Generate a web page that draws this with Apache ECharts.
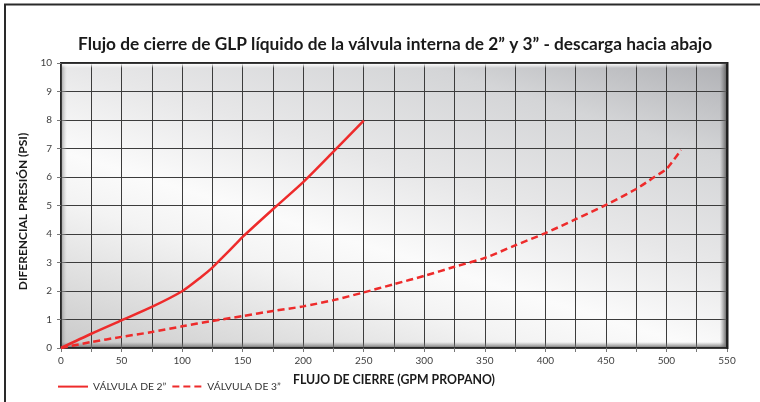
<!DOCTYPE html>
<html><head><meta charset="utf-8">
<script src="https://cdn.jsdelivr.net/npm/echarts@6/dist/echarts.min.js"></script>
<style>html,body{margin:0;padding:0;background:#fff}#c{width:760px;height:402px}</style>
</head><body><div id="c"></div>
<script>
const chartTitle = 'Flujo de cierre de GLP líquido de la válvula interna de 2” y 3” - descarga hacia abajo';
const xAxisName = 'FLUJO DE CIERRE (GPM PROPANO)';
const yAxisName = 'DIFERENCIAL PRESIÓN (PSI)';
const seriesNames = ['VÁLVULA DE 2”', 'VÁLVULA DE 3”'];
const flow2 = [0, 25, 50, 75, 100, 116, 125, 133, 145, 150, 175, 200, 225, 250];
const psi2  = [0, 0.5, 0.97, 1.44, 1.99, 2.5, 2.82, 3.16, 3.68, 3.9, 4.87, 5.82, 6.89, 7.98];
const flow3 = [0, 25, 50, 75, 100, 125, 150, 175, 200, 225, 250, 275, 300, 325, 350, 375, 400, 425, 450, 475, 490, 500, 512];
const psi3  = [0, 0.21, 0.39, 0.56, 0.76, 0.95, 1.12, 1.3, 1.46, 1.68, 1.95, 2.24, 2.53, 2.85, 3.16, 3.6, 4.03, 4.52, 5.02, 5.58, 6.0, 6.28, 6.95];
const xMin = 0, xMax = 550, xStep = 50;
const yMin = 0, yMax = 10, yStep = 1;

const FONT = 'Lato';
const G = {left: 61, top: 63, width: 666, height: 285};
const chart = echarts.init(document.getElementById('c'), null, {renderer: 'canvas'});
const pairs = (xs, ys) => xs.map((x, i) => [x, ys[i]]);
const gridLine = {show: true, lineStyle: {color: '#3c3c3c', width: 1}};

chart.setOption({
  animation: false,
  backgroundColor: '#fff',
  textStyle: {fontFamily: FONT},
  title: {
    text: chartTitle, left: 73, top: 31,
    textStyle: {fontFamily: FONT, fontWeight: 'bold', fontSize: 17.3, color: '#1a1a1a'}
  },
  legend: {
    left: 52, top: 376, itemWidth: 30, itemHeight: 14, itemGap: 5,
    itemStyle: {opacity: 0},
    textStyle: {fontFamily: FONT, fontSize: 10.3, color: '#333'},
    data: seriesNames
  },
  grid: {
    left: G.left, top: G.top, width: G.width, height: G.height, show: true,
    borderColor: '#262626', borderWidth: 2,
    backgroundColor: {type: 'linear', x: -0.078, y: 0.944, x2: 0.129, y2: -0.628, colorStops: [
      {offset: 0, color: '#c9c9c9'}, {offset: 0.3, color: '#f3f3f3'}, {offset: 0.4, color: '#fbfbfb'},
      {offset: 0.58, color: '#e7e7e8'}, {offset: 0.8, color: '#d4d5d7'}, {offset: 1, color: '#aeafb3'}]}
  },
  xAxis: {
    type: 'value', min: xMin, max: xMax, interval: xStep,
    name: xAxisName, nameLocation: 'middle', nameGap: 26,
    nameTextStyle: {fontFamily: FONT, fontWeight: 'bold', fontSize: 12.3, color: '#1a1a1a'},
    axisLine: {show: false},
    axisTick: {show: true, length: 4, lineStyle: {color: '#777'}},
    minorTick: {show: true, splitNumber: 2, length: 4, lineStyle: {color: '#777'}},
    splitLine: gridLine,
    minorSplitLine: gridLine,
    axisLabel: {fontFamily: FONT, fontSize: 10, color: '#404040', margin: 8}
  },
  yAxis: {
    type: 'value', min: yMin, max: yMax, interval: yStep,
    name: yAxisName, nameLocation: 'middle', nameGap: 27, nameRotate: 90,
    nameTextStyle: {fontFamily: FONT, fontWeight: 'bold', fontSize: 12, color: '#1a1a1a', padding: [0, 12, 0, 0]},
    axisLine: {show: false},
    axisTick: {show: true, length: 4, lineStyle: {color: '#777'}},
    splitLine: gridLine,
    axisLabel: {fontFamily: FONT, fontSize: 10, color: '#404040', margin: 9}
  },
  graphic: [
    {type: 'polyline', shape: {points: [[5, 402], [5, 4.5], [760, 4.5]]}, style: {stroke: '#2a2a2a', lineWidth: 2, fill: null}, z: 10},
    {type: 'rect', shape: {x: G.left + 1, y: G.top + 1, width: 5, height: G.height - 2},
      style: {fill: {type: 'linear', x: 0, y: 0, x2: 1, y2: 0, colorStops: [{offset: 0, color: 'rgba(150,150,150,0.7)'}, {offset: 1, color: 'rgba(200,200,200,0)'}]}}, z: 1},
    {type: 'rect', shape: {x: G.left + 1, y: G.top + 1, width: G.width - 2, height: 4},
      style: {fill: {type: 'linear', x: 0, y: 0, x2: 0, y2: 1, colorStops: [{offset: 0, color: 'rgba(255,255,255,0.9)'}, {offset: 1, color: 'rgba(255,255,255,0)'}]}}, z: 1},
    {type: 'rect', shape: {x: G.left + G.width - 7, y: G.top + 1, width: 6, height: G.height - 2},
      style: {fill: {type: 'linear', x: 0, y: 0, x2: 1, y2: 0, colorStops: [{offset: 0, color: 'rgba(120,120,120,0)'}, {offset: 1, color: 'rgba(100,100,100,0.9)'}]}}, z: 1},
    {type: 'rect', shape: {x: G.left + 1, y: G.top + G.height - 6, width: G.width - 2, height: 5},
      style: {fill: {type: 'linear', x: 0, y: 0, x2: 0, y2: 1, colorStops: [{offset: 0, color: 'rgba(130,130,130,0)'}, {offset: 1, color: 'rgba(110,110,110,0.8)'}]}}, z: 1},
    {type: 'line', shape: {x1: G.left + G.width + 0.5, y1: G.top - 1, x2: G.left + G.width + 0.5, y2: G.top + G.height + 1}, style: {stroke: '#1e1e1e', lineWidth: 2}, z: 12}
  ],
  series: [
    {name: seriesNames[0], type: 'line', data: pairs(flow2, psi2), symbol: 'none', smooth: 0.25,
      lineStyle: {color: '#ee2b2b', width: 2.5}, itemStyle: {color: '#ee2b2b'}, z: 5},
    {name: seriesNames[1], type: 'line', data: pairs(flow3, psi3), symbol: 'none', smooth: 0.25,
      lineStyle: {color: '#ee2b2b', width: 2.5, type: [7, 4]}, itemStyle: {color: '#ee2b2b'}, z: 5}
  ]
});
</script></body></html>
